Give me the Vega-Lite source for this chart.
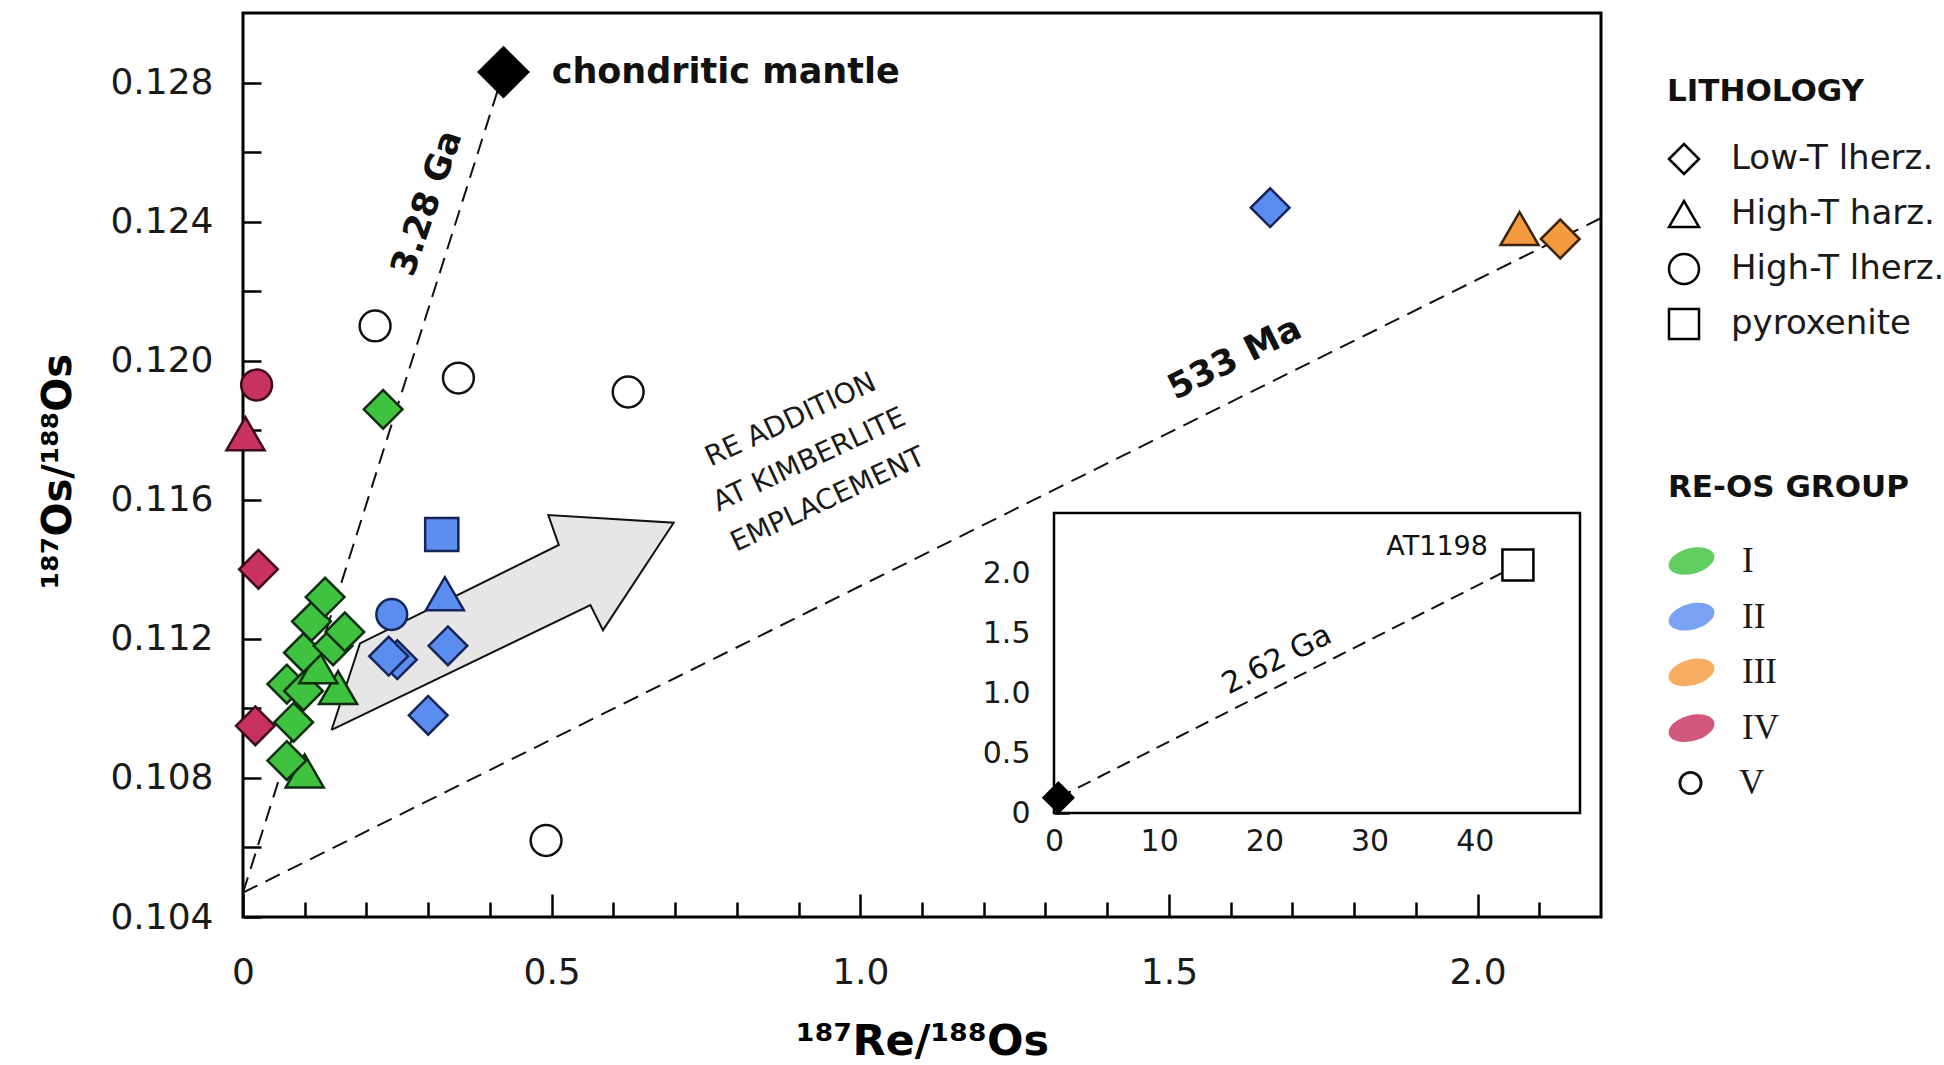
{
  "$schema": "https://vega.github.io/schema/vega-lite/v6.json",
  "width": 1358,
  "height": 904,
  "autosize": {"type": "none"},
  "padding": {"left": 243, "top": 13, "right": 343, "bottom": 148},
  "background": "white",
  "config": {
    "view": {"stroke": "black", "strokeWidth": 3},
    "axis": {
      "grid": false, "domain": false, "tickColor": "black", "tickWidth": 2.5,
      "labelColor": "#1a1a1a", "labelFont": "DejaVu Sans", "titleFont": "DejaVu Sans",
      "titleColor": "black", "labelFlush": false, "labelOverlap": false
    },
    "legend": {
      "padding": 0, "offset": 0, "direction": "vertical",
      "titleFont": "DejaVu Sans", "titleFontWeight": "bold", "titleFontSize": 31,
      "titleColor": "#111", "labelColor": "#1a1a1a", "titleLimit": 400, "labelLimit": 400
    },
    "text": {"font": "DejaVu Sans", "color": "#111"}
  },
  "datasets": {
    "samples": [
      {"x": 0.491, "y": 0.1062, "group": "V", "lith": "High-T lherz."},
      {"x": 0.214, "y": 0.1210, "group": "V", "lith": "High-T lherz."},
      {"x": 0.349, "y": 0.1195, "group": "V", "lith": "High-T lherz."},
      {"x": 0.624, "y": 0.1191, "group": "V", "lith": "High-T lherz."},
      {"x": 0.022, "y": 0.1193, "group": "IV", "lith": "High-T lherz."},
      {"x": 0.004, "y": 0.1179, "group": "IV", "lith": "High-T harz."},
      {"x": 0.025, "y": 0.1140, "group": "IV", "lith": "Low-T lherz."},
      {"x": 0.020, "y": 0.1095, "group": "IV", "lith": "Low-T lherz."},
      {"x": 0.300, "y": 0.1098, "group": "II", "lith": "Low-T lherz."},
      {"x": 0.322, "y": 0.1150, "group": "II", "lith": "pyroxenite"},
      {"x": 0.327, "y": 0.1133, "group": "II", "lith": "High-T harz."},
      {"x": 0.241, "y": 0.1127, "group": "II", "lith": "High-T lherz."},
      {"x": 0.332, "y": 0.1118, "group": "II", "lith": "Low-T lherz."},
      {"x": 0.250, "y": 0.1114, "group": "II", "lith": "Low-T lherz."},
      {"x": 0.236, "y": 0.1115, "group": "II", "lith": "Low-T lherz."},
      {"x": 1.664, "y": 0.1244, "group": "II", "lith": "Low-T lherz."},
      {"x": 2.068, "y": 0.1238, "group": "III", "lith": "High-T harz."},
      {"x": 2.134, "y": 0.1235, "group": "III", "lith": "Low-T lherz."},
      {"x": 0.227, "y": 0.1186, "group": "I", "lith": "Low-T lherz."},
      {"x": 0.100, "y": 0.1082, "group": "I", "lith": "High-T harz."},
      {"x": 0.071, "y": 0.1085, "group": "I", "lith": "Low-T lherz."},
      {"x": 0.082, "y": 0.1096, "group": "I", "lith": "Low-T lherz."},
      {"x": 0.154, "y": 0.1106, "group": "I", "lith": "High-T harz."},
      {"x": 0.071, "y": 0.1107, "group": "I", "lith": "Low-T lherz."},
      {"x": 0.098, "y": 0.1105, "group": "I", "lith": "Low-T lherz."},
      {"x": 0.122, "y": 0.1112, "group": "I", "lith": "High-T harz."},
      {"x": 0.098, "y": 0.1116, "group": "I", "lith": "Low-T lherz."},
      {"x": 0.146, "y": 0.1118, "group": "I", "lith": "Low-T lherz."},
      {"x": 0.165, "y": 0.1122, "group": "I", "lith": "Low-T lherz."},
      {"x": 0.111, "y": 0.1125, "group": "I", "lith": "Low-T lherz."},
      {"x": 0.133, "y": 0.1132, "group": "I", "lith": "Low-T lherz."}
    ],
    "isochrons": [
      {"line": "3.28 Ga", "x": 0, "y": 0.1047},
      {"line": "3.28 Ga", "x": 0.422, "y": 0.1283},
      {"line": "533 Ma", "x": 0, "y": 0.1047},
      {"line": "533 Ma", "x": 2.2, "y": 0.1241}
    ],
    "arrow": [
      {"i": 0, "x": 0.1435, "y": 0.10938},
      {"i": 1, "x": 0.5628, "y": 0.11297},
      {"i": 2, "x": 0.5832, "y": 0.11225},
      {"i": 3, "x": 0.6977, "y": 0.11534},
      {"i": 4, "x": 0.4946, "y": 0.11556},
      {"i": 5, "x": 0.5116, "y": 0.11470},
      {"i": 6, "x": 0.1895, "y": 0.11187},
      {"i": 7, "x": 0.1435, "y": 0.10938}
    ],
    "inset_frame": [{"x0": 0, "x1": 50, "y0": 0, "y1": 2.5}],
    "inset_line": [{"x": 0.42, "y": 0.128}, {"x": 44.1, "y": 2.067}]
  },
  "layer": [
    {
      "data": {"name": "arrow"},
      "mark": {"type": "line", "fill": "#e6e6e6", "stroke": "#111", "strokeWidth": 2, "strokeJoin": "miter"},
      "encoding": {
        "x": {"field": "x", "type": "quantitative", "scale": {"domain": [0, 2.2], "nice": false, "zero": false}, "axis": null},
        "y": {"field": "y", "type": "quantitative", "scale": {"domain": [0.104, 0.13], "nice": false, "zero": false}, "axis": null},
        "order": {"field": "i", "type": "quantitative"}
      }
    },
    {
      "data": {"name": "isochrons"},
      "mark": {"type": "line", "strokeDash": [16, 9], "strokeWidth": 2, "color": "#111"},
      "encoding": {
        "x": {
          "field": "x", "type": "quantitative",
          "scale": {"domain": [0, 2.2], "nice": false, "zero": false},
          "axis": {
            "orient": "bottom", "values": [0.1, 0.2, 0.3, 0.4, 0.6, 0.7, 0.8, 0.9, 1.1, 1.2, 1.3, 1.4, 1.6, 1.7, 1.8, 1.9, 2.1],
            "tickSize": -15, "labels": false, "title": null
          }
        },
        "y": {"field": "y", "type": "quantitative", "scale": {"domain": [0.104, 0.13], "nice": false, "zero": false}, "axis": null},
        "detail": {"field": "line", "type": "nominal"}
      }
    },
    {
      "data": {"name": "samples"},
      "mark": {"type": "point", "filled": true, "opacity": 1, "fillOpacity": 1, "strokeWidth": 2.5},
      "encoding": {
        "x": {
          "field": "x", "type": "quantitative",
          "scale": {"domain": [0, 2.2], "nice": false, "zero": false},
          "axis": {
            "orient": "bottom", "values": [0, 0.5, 1, 1.5, 2],
            "labelExpr": "datum.value == 0 ? '0' : format(datum.value, '.1f')",
            "tickSize": -23, "labelPadding": 61, "labelFontSize": 36,
            "title": "¹⁸⁷Re/¹⁸⁸Os", "titleFontSize": 43, "titleFontWeight": "bold",
            "titleY": 137, "titleBaseline": "alphabetic"
          }
        },
        "y": {
          "field": "y", "type": "quantitative",
          "scale": {"domain": [0.104, 0.13], "nice": false, "zero": false},
          "axis": {
            "orient": "left",
            "values": [0.104, 0.106, 0.108, 0.11, 0.112, 0.114, 0.116, 0.118, 0.12, 0.122, 0.124, 0.126, 0.128],
            "labelExpr": "round(datum.value * 1000) % 4 == 0 ? format(datum.value, '.3f') : ''",
            "tickSize": -18, "labelPadding": 48, "labelFontSize": 36,
            "title": "¹⁸⁷Os/¹⁸⁸Os", "titleFontSize": 40, "titleFontWeight": "bold",
            "titleAngle": -90, "titleX": -173, "titleY": 458, "titleBaseline": "alphabetic", "titleAlign": "center"
          }
        },
        "shape": {
          "field": "lith", "type": "nominal",
          "scale": {"domain": ["Low-T lherz.", "High-T harz.", "High-T lherz.", "pyroxenite"], "range": ["diamond", "triangle-up", "circle", "square"]},
          "legend": {
            "title": "LITHOLOGY", "orient": "none", "legendX": 1424, "legendY": 64,
            "symbolSize": 900, "clipHeight": 40, "rowPadding": 15, "labelOffset": 30,
            "titlePadding": 31, "labelFont": "DejaVu Sans", "labelFontSize": 34,
            "symbolStrokeWidth": 2.5, "symbolStrokeColor": "black", "symbolFillColor": "white", "symbolOpacity": 1
          }
        },
        "fill": {
          "field": "group", "type": "nominal",
          "scale": {"domain": ["I", "II", "III", "IV", "V"], "range": ["#3fc23f", "#5b8def", "#f49b3f", "#c8325f", "#ffffff"]},
          "legend": {
            "title": "RE-OS GROUP", "orient": "none", "legendX": 1425, "legendY": 460,
            "values": ["I", "II", "III", "IV"],
            "symbolType": "M -0.966 0.259 A 1 0.55 -15 1 1 0.966 -0.259 A 1 0.55 -15 1 1 -0.966 0.259 Z",
            "symbolSize": 2200, "symbolStrokeWidth": 0, "symbolOpacity": 0.82,
            "clipHeight": 40, "rowPadding": 15.7,
            "labelOffset": 27, "titlePadding": 37,
            "labelFont": "Liberation Serif", "labelFontSize": 35
          }
        },
        "stroke": {
          "field": "group", "type": "nominal",
          "scale": {"domain": ["V", "IV", "III", "II", "I"], "range": ["#111111", "#3d0b1c", "#3d2408", "#152559", "#0f2e0f"]},
          "legend": {
            "title": null, "orient": "none", "legendX": 1430, "legendY": 750,
            "values": ["V"],
            "symbolType": "circle", "symbolSize": 450, "symbolStrokeWidth": 2.8,
            "symbolFillColor": "white", "symbolOpacity": 1,
            "clipHeight": 40, "labelOffset": 31,
            "labelFont": "Liberation Serif", "labelFontSize": 35
          }
        },
        "size": {
          "field": "lith", "type": "nominal",
          "scale": {"type": "ordinal", "domain": ["pyroxenite", "High-T lherz.", "High-T harz.", "Low-T lherz."], "range": [1100, 950, 1450, 1500]},
          "legend": null
        }
      }
    },
    {
      "data": {"values": [{"x": 0.422, "y": 0.1283}]},
      "mark": {"type": "point", "shape": "diamond", "filled": true, "color": "black", "size": 2800, "opacity": 1},
      "encoding": {
        "x": {"field": "x", "type": "quantitative", "scale": {"domain": [0, 2.2], "nice": false, "zero": false}, "axis": null},
        "y": {"field": "y", "type": "quantitative", "scale": {"domain": [0.104, 0.13], "nice": false, "zero": false}, "axis": null}
      }
    },
    {
      "data": {"values": [{"x": 0.5, "y": 0.128, "label": "chondritic mantle"}]},
      "mark": {"type": "text", "align": "left", "baseline": "alphabetic", "fontSize": 35, "fontWeight": "bold"},
      "encoding": {
        "x": {"field": "x", "type": "quantitative", "scale": {"domain": [0, 2.2], "nice": false, "zero": false}, "axis": null},
        "y": {"field": "y", "type": "quantitative", "scale": {"domain": [0.104, 0.13], "nice": false, "zero": false}, "axis": null},
        "text": {"field": "label"}
      }
    },
    {
      "data": {"values": [{"x": 0.298, "y": 0.12453, "label": "3.28 Ga"}]},
      "mark": {"type": "text", "align": "center", "baseline": "middle", "fontSize": 35, "fontWeight": "bold", "angle": -71},
      "encoding": {
        "x": {"field": "x", "type": "quantitative", "scale": {"domain": [0, 2.2], "nice": false, "zero": false}, "axis": null},
        "y": {"field": "y", "type": "quantitative", "scale": {"domain": [0.104, 0.13], "nice": false, "zero": false}, "axis": null},
        "text": {"field": "label"}
      }
    },
    {
      "data": {"values": [{"x": 1.6064, "y": 0.12007, "label": "533 Ma"}]},
      "mark": {"type": "text", "align": "center", "baseline": "middle", "fontSize": 35, "fontWeight": "bold", "angle": -26.5},
      "encoding": {
        "x": {"field": "x", "type": "quantitative", "scale": {"domain": [0, 2.2], "nice": false, "zero": false}, "axis": null},
        "y": {"field": "y", "type": "quantitative", "scale": {"domain": [0.104, 0.13], "nice": false, "zero": false}, "axis": null},
        "text": {"field": "label"}
      }
    },
    {
      "data": {"values": [{"x": 0.8876, "y": 0.11828, "label": "RE ADDITION\nAT KIMBERLITE\nEMPLACEMENT"}]},
      "mark": {"type": "text", "align": "center", "baseline": "middle", "fontSize": 28, "angle": -25, "lineBreak": "\n", "lineHeight": 44, "color": "#1a1a1a"},
      "encoding": {
        "x": {"field": "x", "type": "quantitative", "scale": {"domain": [0, 2.2], "nice": false, "zero": false}, "axis": null},
        "y": {"field": "y", "type": "quantitative", "scale": {"domain": [0.104, 0.13], "nice": false, "zero": false}, "axis": null},
        "text": {"field": "label"}
      }
    },
    {
      "data": {"name": "inset_frame"},
      "mark": {"type": "rect", "fill": "white", "stroke": "black", "strokeWidth": 2.5},
      "encoding": {
        "x": {
          "field": "x0", "type": "quantitative",
          "scale": {"domain": [0, 50], "range": [811, 1337], "nice": false, "zero": false},
          "axis": {
            "orient": "bottom", "offset": -104, "values": [0, 10, 20, 30, 40], "format": "d",
            "tickSize": -15, "labelPadding": 28, "labelFontSize": 30, "title": null
          }
        },
        "x2": {"field": "x1"},
        "y": {
          "field": "y0", "type": "quantitative",
          "scale": {"domain": [0, 2.5], "range": [800, 500], "nice": false, "zero": false},
          "axis": {
            "orient": "left", "offset": -811, "values": [0, 0.5, 1, 1.5, 2],
            "labelExpr": "datum.value == 0 ? '0' : format(datum.value, '.1f')",
            "tickSize": -15, "labelPadding": 39, "labelFontSize": 30, "title": null
          }
        },
        "y2": {"field": "y1"}
      }
    },
    {
      "data": {"name": "inset_line"},
      "mark": {"type": "line", "strokeDash": [14, 8], "strokeWidth": 2, "color": "#111"},
      "encoding": {
        "x": {"field": "x", "type": "quantitative", "scale": {"domain": [0, 50], "range": [811, 1337], "nice": false, "zero": false}, "axis": null},
        "y": {"field": "y", "type": "quantitative", "scale": {"domain": [0, 2.5], "range": [800, 500], "nice": false, "zero": false}, "axis": null}
      }
    },
    {
      "data": {"values": [{"x": 0.42, "y": 0.128}]},
      "mark": {"type": "point", "shape": "diamond", "filled": true, "color": "black", "size": 1100, "opacity": 1},
      "encoding": {
        "x": {"field": "x", "type": "quantitative", "scale": {"domain": [0, 50], "range": [811, 1337], "nice": false, "zero": false}, "axis": null},
        "y": {"field": "y", "type": "quantitative", "scale": {"domain": [0, 2.5], "range": [800, 500], "nice": false, "zero": false}, "axis": null}
      }
    },
    {
      "data": {"values": [{"x": 44.1, "y": 2.067, "sample": "AT1198"}]},
      "mark": {"type": "point", "shape": "square", "filled": true, "fill": "white", "stroke": "black", "strokeWidth": 2.5, "size": 961, "opacity": 1},
      "encoding": {
        "x": {"field": "x", "type": "quantitative", "scale": {"domain": [0, 50], "range": [811, 1337], "nice": false, "zero": false}, "axis": null},
        "y": {"field": "y", "type": "quantitative", "scale": {"domain": [0, 2.5], "range": [800, 500], "nice": false, "zero": false}, "axis": null}
      }
    },
    {
      "data": {"values": [{"x": 41.25, "y": 2.217, "label": "AT1198"}]},
      "mark": {"type": "text", "align": "right", "baseline": "middle", "fontSize": 27},
      "encoding": {
        "x": {"field": "x", "type": "quantitative", "scale": {"domain": [0, 50], "range": [811, 1337], "nice": false, "zero": false}, "axis": null},
        "y": {"field": "y", "type": "quantitative", "scale": {"domain": [0, 2.5], "range": [800, 500], "nice": false, "zero": false}, "axis": null},
        "text": {"field": "label"}
      }
    },
    {
      "data": {"values": [{"x": 21.2, "y": 1.275, "label": "2.62 Ga"}]},
      "mark": {"type": "text", "align": "center", "baseline": "middle", "fontSize": 30, "angle": -27},
      "encoding": {
        "x": {"field": "x", "type": "quantitative", "scale": {"domain": [0, 50], "range": [811, 1337], "nice": false, "zero": false}, "axis": null},
        "y": {"field": "y", "type": "quantitative", "scale": {"domain": [0, 2.5], "range": [800, 500], "nice": false, "zero": false}, "axis": null},
        "text": {"field": "label"}
      }
    }
  ],
  "resolve": {
    "scale": {"x": "independent", "y": "independent"},
    "axis": {"x": "independent", "y": "independent"}
  }
}
